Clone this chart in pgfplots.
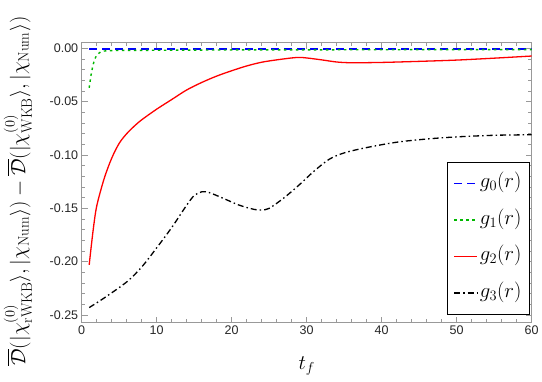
\documentclass[border=0pt]{standalone}
\usepackage{pgfplots}
\pgfplotsset{compat=1.18}
\usepackage{fontspec}
\newfontfamily\ticksans{Liberation Sans}
\usepackage{amsmath}

\definecolor{framegray}{gray}{0.6}
\definecolor{mgreen}{rgb}{0.0,0.72,0.0}

\begin{document}
\begin{tikzpicture}
\begin{axis}[
  scale only axis,
  width=450pt, height=280pt,
  xmin=0, xmax=60,
  ymin=-0.2572, ymax=0.0053,
  xtick={0,10,...,60},
  ytick={-0.25,-0.2,-0.15,-0.1,-0.05,0},
  minor x tick num=4,
  minor y tick num=4,
  tick align=inside,
  major tick length=6pt,
  minor tick length=3.5pt,
  axis line style={framegray},
  every tick/.style={framegray, line width=0.5pt},
  /pgf/number format/assume math mode=true,
  /pgf/number format/fixed,
  /pgf/number format/fixed zerofill,
  /pgf/number format/precision=2,
  xticklabel style={font=\ticksans\fontsize{12.5}{14}\selectfont, text=black!85, /pgf/number format/precision=0, /pgf/number format/fixed zerofill=false},
  yticklabel style={font=\ticksans\fontsize{12.5}{14}\selectfont, text=black!85},
  scaled y ticks=false,
  xlabel={$t_f$},
  xlabel style={font=\fontsize{22}{24}\selectfont, at={(axis description cs:0.5,-0.155)}, anchor=center},
  ylabel={$\overline{\mathcal{D}}(|\chi^{(0)}_{\mathrm{rWKB}}\rangle,|\chi_{\mathrm{Num}}\rangle)-\overline{\mathcal{D}}(|\chi^{(0)}_{\mathrm{WKB}}\rangle,|\chi_{\mathrm{Num}}\rangle)$},
  ylabel style={font=\fontsize{21.5}{23}\selectfont, at={(axis description cs:-0.1416,0.47)}, anchor=center, rotate=0},
  legend image code/.code={\draw[line width=1.4pt, #1] plot coordinates {(0pt,0pt) (11.5pt,0pt) (23pt,0pt)};},
  legend style={at={(axis cs:59.77,-0.2497)}, anchor=south east, draw=black, line width=1pt,
    font=\fontsize{19.5}{21}\selectfont, inner xsep=6pt, inner ysep=10pt, row sep=14.5pt,
    nodes={inner sep=2pt, text height=13pt, text depth=5pt},
    /tikz/every even column/.append style={column sep=10pt}},
  legend cell align=left,
]
% g_0
\addplot[draw=blue, line width=1.3pt, dash pattern=on 8pt off 5pt] coordinates {
(1,-0.0005) (10,-0.0005) (20,-0.0005) (30,-0.0005) (40,-0.0005) (50,-0.0005) (60,-0.0005)};
\addlegendentry{$g_0(r)$}
% g_1
\addplot[draw=mgreen, line width=1.4pt, dash pattern=on 2.5pt off 3.5pt, smooth] coordinates {
(1,-0.037) (1.25,-0.025) (1.5,-0.016) (1.75,-0.010) (2,-0.0065) (2.5,-0.0035) (3,-0.0025)
(5,-0.002) (10,-0.0018) (20,-0.0015) (30,-0.0014) (40,-0.0013) (50,-0.0012) (60,-0.0012)};
\addlegendentry{$g_1(r)$}
% g_2
\addplot[draw=red, line width=1.3pt, solid, smooth] coordinates {
(1,-0.203) (1.5,-0.172) (2,-0.148) (3,-0.122) (4,-0.103) (5,-0.089) (6,-0.080) (7,-0.073)
(8,-0.067) (10,-0.057) (12,-0.048) (14,-0.039) (16,-0.032) (18,-0.026) (20,-0.021)
(22,-0.0165) (24,-0.013) (26,-0.0108) (28,-0.0090) (29,-0.0085) (30,-0.0090) (32,-0.0108)
(34,-0.0128) (36,-0.0135) (40,-0.0132) (45,-0.0122) (50,-0.0110) (55,-0.0092) (60,-0.0072)};
\addlegendentry{$g_2(r)$}
% g_3
\addplot[draw=black, line width=1.3pt, dash pattern=on 6pt off 3pt on 1.5pt off 3pt, smooth] coordinates {
(1,-0.243) (3,-0.234) (6,-0.219) (8,-0.205) (10,-0.187) (12,-0.168) (14,-0.147) (15,-0.138)
(16,-0.1345) (17,-0.1352) (19,-0.141) (21,-0.147) (23,-0.151) (24,-0.1515) (25,-0.1500)
(27,-0.140) (29,-0.128) (31,-0.115) (33,-0.104) (35,-0.098) (38,-0.093) (42,-0.088)
(46,-0.085) (50,-0.083) (55,-0.0815) (60,-0.081)};
\addlegendentry{$g_3(r)$}
\end{axis}
\pgfresetboundingbox
\path[use as bounding box] ([shift={(-81.7pt,-59.3pt)}]current axis.south west) rectangle ([shift={(10.3pt,42.7pt)}]current axis.north east);
\end{tikzpicture}
\end{document}
